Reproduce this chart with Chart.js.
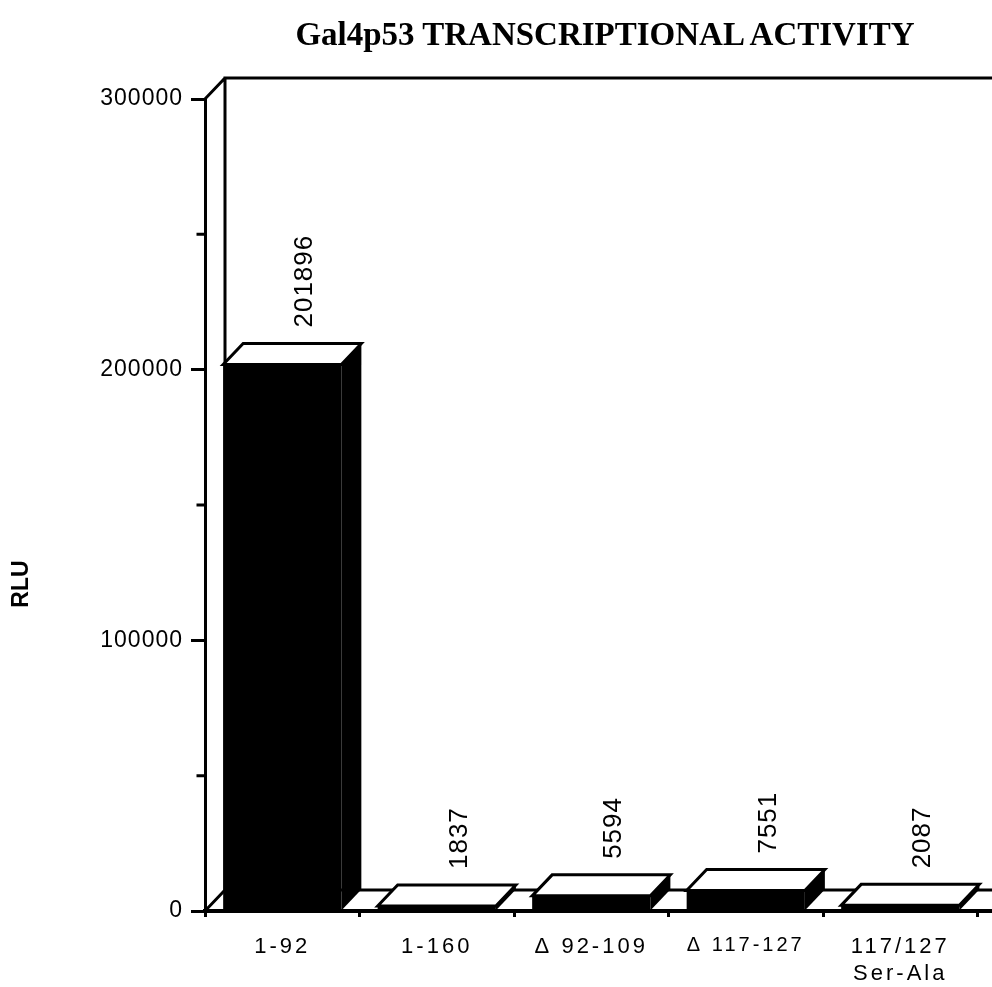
<!DOCTYPE html>
<html><head><meta charset="utf-8">
<script src="https://cdn.jsdelivr.net/npm/chart.js@4/dist/chart.umd.min.js"></script>
<style>
html,body{margin:0;padding:0;overflow:hidden;background:#fff;width:992px;height:987px}
#wrap{position:absolute;left:0;top:0;width:1210px;height:987px}
#title{position:absolute;left:0;top:16px;width:1210px;text-align:center;font:bold 33px "Liberation Serif",serif;line-height:36px;color:#000}
canvas{position:absolute;left:0;top:0}
</style>
</head><body><div id="wrap">
<canvas id="c" width="1210" height="987"></canvas>
<div id="title">Gal4p53 TRANSCRIPTIONAL ACTIVITY</div>
</div>
<script>
// ---- data ----
const categories = [['1-92'], ['1-160'], ['Δ 92-109'], ['Δ 117-127'], ['117/127', 'Ser-Ala'], ['']];
const rluValues = [201896, 1837, 5594, 7551, 2087, null];
const valueLabels = ['201896', '1837', '5594', '7551', '2087', ''];
const yMajorTicks = [0, 100000, 200000, 300000];
const yMinorTicks = [50000, 150000, 250000];
const yAxisTitle = 'RLU';

// ---- 3D look ----
const DX = 20, DY = -21;
const FONT = '"Liberation Sans", Arial, sans-serif';

function wrapLabels(scale, spacing) {
  if (scale._wrapped) return;
  scale._wrapped = true;
  const orig = Chart.Scale.prototype.drawLabels;
  scale.drawLabels = function (area) {
    const ctx = this.ctx;
    ctx.save();
    ctx.letterSpacing = spacing;
    orig.call(this, area);
    ctx.restore();
  };
}

const deco = {
  id: 'deco',
  afterUpdate(chart) {
    wrapLabels(chart.scales.x, '3px');
    wrapLabels(chart.scales.y, '1px');
  },
  beforeDatasetsDraw(chart) {
    const ctx = chart.ctx, a = chart.chartArea;
    ctx.save();
    ctx.strokeStyle = '#000';
    ctx.lineWidth = 3;
    ctx.lineCap = 'square';
    ctx.beginPath();
    // back wall
    ctx.moveTo(a.left, a.top); ctx.lineTo(a.left + DX, a.top + DY);
    ctx.lineTo(chart.width, a.top + DY);
    ctx.moveTo(a.left + DX, a.top + DY); ctx.lineTo(a.left + DX, a.bottom + DY);
    // floor
    ctx.moveTo(a.left, a.bottom); ctx.lineTo(a.left + DX, a.bottom + DY);
    ctx.lineTo(chart.width, a.bottom + DY);
    ctx.stroke();
    // minor y ticks
    const y = chart.scales.y;
    ctx.beginPath();
    yMinorTicks.forEach(v => {
      const py = y.getPixelForValue(v);
      ctx.moveTo(a.left - 7, py); ctx.lineTo(a.left, py);
    });
    ctx.stroke();
    ctx.restore();
  },
  afterDatasetsDraw(chart) {
    const ctx = chart.ctx;
    const meta = chart.getDatasetMeta(0);
    ctx.save();
    meta.data.forEach((bar, i) => {
      if (rluValues[i] == null) return;
      const p = bar.getProps(['x', 'y', 'base', 'width'], true);
      const l = p.x - p.width / 2, r = p.x + p.width / 2, t = p.y, b = p.base;
      // side face
      ctx.fillStyle = '#000';
      ctx.beginPath();
      ctx.moveTo(r, b); ctx.lineTo(r, t); ctx.lineTo(r + DX, t + DY); ctx.lineTo(r + DX, b + DY);
      ctx.closePath(); ctx.fill();
      // top face
      ctx.fillStyle = '#fff';
      ctx.strokeStyle = '#000';
      ctx.lineWidth = 3;
      ctx.lineJoin = 'miter';
      ctx.beginPath();
      ctx.moveTo(l, t); ctx.lineTo(l + DX, t + DY); ctx.lineTo(r + DX, t + DY); ctx.lineTo(r, t);
      ctx.closePath(); ctx.fill(); ctx.stroke();
      // value label
      ctx.save();
      ctx.translate(p.x + DX + 3, t + DY - 16);
      ctx.rotate(-Math.PI / 2);
      ctx.fillStyle = '#000';
      ctx.font = '26px ' + FONT;
      ctx.letterSpacing = '1px';
      ctx.textAlign = 'left';
      ctx.textBaseline = 'middle';
      ctx.fillText(valueLabels[i], 0, 0);
      ctx.restore();
    });
    ctx.restore();
  },
  afterDraw(chart) {
    const ctx = chart.ctx;
    ctx.save();
    ctx.translate(22, 584);
    ctx.rotate(-Math.PI / 2);
    ctx.fillStyle = '#000';
    ctx.font = 'bold 23px ' + FONT;
    ctx.textAlign = 'center';
    ctx.textBaseline = 'middle';
    ctx.fillText(yAxisTitle, 0, 0);
    ctx.restore();
  }
};

new Chart(document.getElementById('c'), {
  type: 'bar',
  data: {
    labels: categories,
    datasets: [{
      data: rluValues,
      backgroundColor: '#000',
      borderWidth: 0,
      barPercentage: 0.765,
      categoryPercentage: 1
    }]
  },
  options: {
    responsive: false,
    animation: false,
    devicePixelRatio: 1,
    layout: { padding: { top: 99, right: 78, left: 0, bottom: 0 } },
    plugins: { legend: { display: false }, title: { display: false }, tooltip: { enabled: false } },
    scales: {
      x: {
        afterFit(s) { s.height = 76; },
        grid: { drawOnChartArea: false, offset: true, tickLength: 6, tickWidth: 3, tickColor: '#000' },
        border: { display: true, color: '#000', width: 4 },
        ticks: {
          color: '#000',
          padding: 16,
          maxRotation: 0,
          autoSkip: false,
          font: (c) => ({ family: FONT, size: c.index === 3 ? 20 : 22, lineHeight: 1.25 })
        }
      },
      y: {
        min: 0, max: 300000,
        afterFit(s) { s.width = 205; },
        afterBuildTicks(s) {
          s.ticks = [...yMajorTicks, ...yMinorTicks].sort((a, b) => a - b).map(v => ({ value: v }));
        },
        grid: {
          drawOnChartArea: false, tickLength: 14, tickWidth: 3,
          tickColor: (c) => (c.tick && yMajorTicks.includes(c.tick.value)) ? '#000' : 'rgba(0,0,0,0)'
        },
        border: { display: true, color: '#000', width: 3 },
        ticks: {
          color: '#000',
          padding: 8,
          font: { family: FONT, size: 23 },
          callback: (v) => yMajorTicks.includes(v) ? String(v) : ''
        }
      }
    }
  },
  plugins: [deco]
});
</script>
</body></html>
